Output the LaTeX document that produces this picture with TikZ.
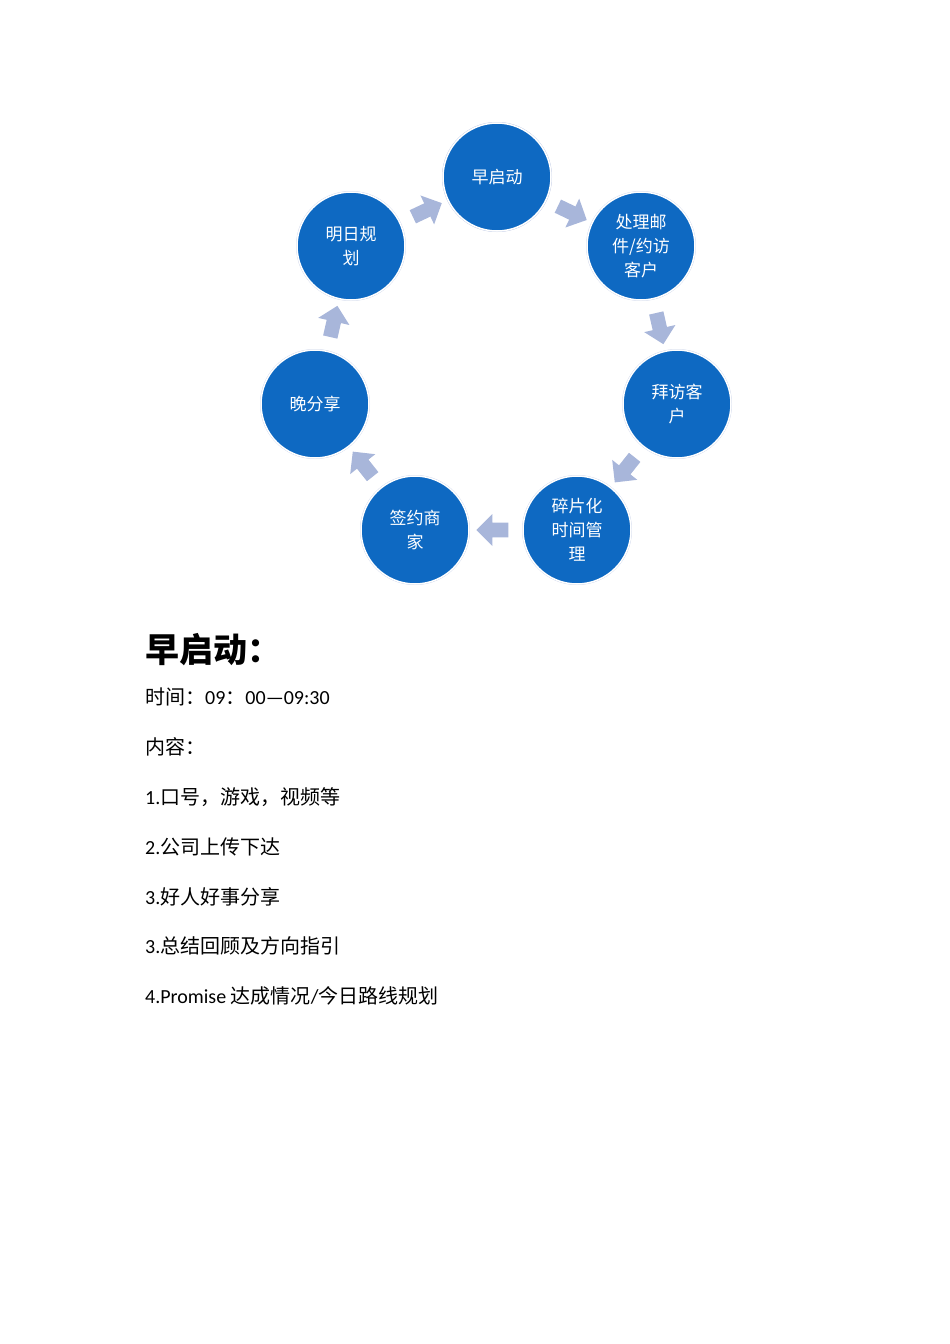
\documentclass[tikz,border=0pt]{standalone}
\usepackage{fontspec}
\setmainfont{Carlito}
\newfontfamily\cjk{Noto Sans CJK SC}
\usetikzlibrary{shapes.arrows,calc}
\definecolor{cblue}{HTML}{0E69C2}
\definecolor{aclr}{HTML}{A8B6DA}
\tikzset{
 cnode/.style={circle,fill=cblue,draw=white,line width=1.5pt,minimum size=108pt,inner sep=0pt,text=white,font=\cjk\fontsize{17}{24}\selectfont,align=center},
 carrow/.style={single arrow,fill=aclr,minimum height=32pt,minimum width=32pt,single arrow head extend=5pt,inner sep=4pt},
 body/.style={anchor=west,font=\fontsize{20}{24}\selectfont,inner sep=0pt}
}
\begin{document}
\begin{tikzpicture}[x=1pt,y=-1pt]
\useasboundingbox (0,0) rectangle (950,1344);
\fill[aclr!60] (497,177) circle (55pt);
\foreach \p in {(497,177),(641,246),(677,404),(577,530),(415,530),(315,404),(351,246)} {\fill[aclr!70] \p circle (55pt);}
\node[cnode] (a) at (497,177) {早启动};
\node[cnode] (b) at (641,246) {处理邮\\件/约访\\客户};
\node[cnode] (c) at (677,404) {拜访客\\户};
\node[cnode] (d) at (577,530) {碎片化\\时间管\\理};
\node[cnode] (e) at (415,530) {签约商\\家};
\node[cnode] (f) at (315,404) {晚分享};
\node[cnode] (g) at (351,246) {明日规\\划};
\foreach \u/\v in {a/b,b/c,c/d,d/e,e/f,f/g,g/a} {
 \path let \p1=($(\v)-(\u)$) in node[carrow,rotate={atan2(\y1,\x1)}] at ($(\u)!0.5!(\v)$) {};
}
\node[body,font=\cjk\bfseries\fontsize{34}{40}\selectfont] (h) at (145,650) {早启动：};
\node[body] (l1) at (145,697) {{\cjk 时间：}09{\cjk ：}00—09:30};
\node[body] (l2) at (145,747) {\cjk 内容：};
\node[body] (l3) at (145,797) {1.{\cjk 口号，游戏，视频等}};
\node[body] (l4) at (145,847) {2.{\cjk 公司上传下达}};
\node[body] (l5) at (145,897) {3.{\cjk 好人好事分享}};
\node[body] (l6) at (145,946) {3.{\cjk 总结回顾及方向指引}};
\node[body] (l7) at (145,996) {4.Promise {\cjk 达成情况}/{\cjk 今日路线规划}};
\end{tikzpicture}
\end{document}
